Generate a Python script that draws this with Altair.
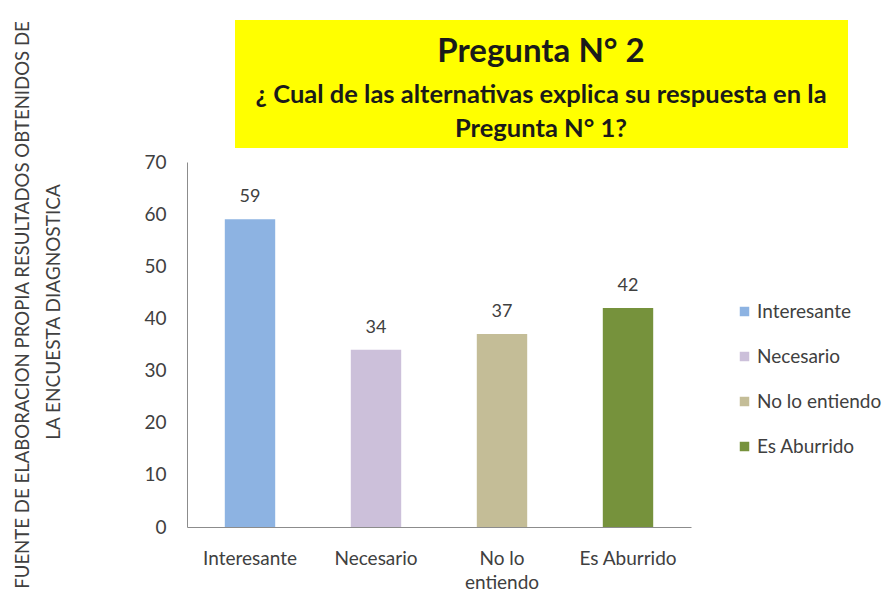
import altair as alt
import pandas as pd

categories = ["Interesante", "Necesario", "No lo entiendo", "Es Aburrido"]
values = [59, 34, 37, 42]
colors = ["#8DB3E2", "#CCC0DA", "#C4BD97", "#76923C"]

title_line1 = "Pregunta N° 2"
title_line2 = "¿ Cual de las alternativas explica  su respuesta en la"
title_line3 = "Pregunta N° 1?"
side_line1 = "FUENTE  DE ELABORACION PROPIA RESULTADOS OBTENIDOS DE"
side_line2 = "LA ENCUESTA DIAGNOSTICA"

FONT = "Lato"

df = pd.DataFrame({"cat": categories, "val": values})

xenc = alt.X("cat:N", sort=categories, title=None,
             scale=alt.Scale(paddingInner=0.6, paddingOuter=0.3),
             axis=alt.Axis(labelAngle=0, ticks=False, domainColor="#8c8c8c",
                           labelFontSize=19, labelColor="#404040", labelFont=FONT,
                           labelPadding=22, labelLineHeight=24,
                           labelExpr="datum.label == 'No lo entiendo' ? ['No lo', 'entiendo'] : datum.label"))
yenc = alt.Y("val:Q", title=None,
             scale=alt.Scale(domain=[0, 70]),
             axis=alt.Axis(values=[0, 10, 20, 30, 40, 50, 60, 70], grid=False, ticks=False,
                           domainColor="#8c8c8c", labelFontSize=19, labelColor="#404040",
                           labelFont=FONT, labelPadding=21))

bars = alt.Chart(df).mark_bar().encode(
    x=xenc, y=yenc,
    color=alt.Color("cat:N", sort=categories, title=None,
                    scale=alt.Scale(domain=categories, range=colors),
                    legend=alt.Legend(orient="none", legendX=548, legendY=140,
                                      symbolType="square", symbolSize=90, symbolStrokeWidth=0,
                                      labelFontSize=19, labelFont=FONT, labelColor="#404040",
                                      rowPadding=25, labelOffset=3)),
)

labels = alt.Chart(df).mark_text(dy=-22, fontSize=18, font=FONT, color="#404040").encode(
    x=alt.X("cat:N", sort=categories), y="val:Q", text="val:Q"
)

box = alt.Chart(pd.DataFrame({"a": [0]})).mark_rect(color="#FFFF00").encode(
    x=alt.value(48), x2=alt.value(661), y=alt.value(-142), y2=alt.value(-14)
)

TX = 354
t1 = alt.Chart(pd.DataFrame({"t": [title_line1]})).mark_text(
    fontSize=33, fontWeight="bold", font=FONT, color="#1a1a1a", baseline="middle"
).encode(text="t:N", x=alt.value(TX), y=alt.value(-110))
t2 = alt.Chart(pd.DataFrame({"t": [title_line2]})).mark_text(
    fontSize=25.5, fontWeight="bold", font=FONT, color="#1a1a1a", baseline="middle"
).encode(text="t:N", x=alt.value(TX), y=alt.value(-67))
t3 = alt.Chart(pd.DataFrame({"t": [title_line3]})).mark_text(
    fontSize=25.5, fontWeight="bold", font=FONT, color="#1a1a1a", baseline="middle"
).encode(text="t:N", x=alt.value(TX), y=alt.value(-33))

s1 = alt.Chart(pd.DataFrame({"t": [side_line1]})).mark_text(
    fontSize=18.6, font=FONT, color="#404040", angle=270, baseline="middle"
).encode(text="t:N", x=alt.value(-164), y=alt.value(143))
s2 = alt.Chart(pd.DataFrame({"t": [side_line2]})).mark_text(
    fontSize=19, font=FONT, color="#404040", angle=270, baseline="middle"
).encode(text="t:N", x=alt.value(-133), y=alt.value(150))

chart = alt.layer(box, t1, t2, t3, s1, s2, bars, labels).properties(
    width=504, height=365,
    background="white",
    autosize=alt.AutoSizeParams(type="none"),
    padding={"left": 179, "top": 154, "right": 194, "bottom": 68},
).configure_view(stroke=None)

chart.save("out.html", embed_options={"renderer": "svg", "actions": False})
